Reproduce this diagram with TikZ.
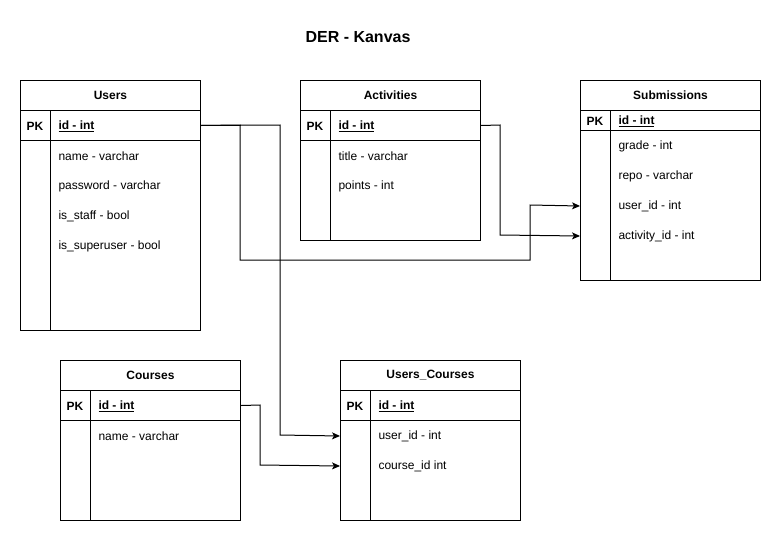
\documentclass[tikz,border=0pt]{standalone}
\usepackage{fontspec}
\setmainfont{Liberation Sans}
\usetikzlibrary{arrows.meta}
\begin{document}
\begin{tikzpicture}[x=1pt,y=-1pt,line width=1pt,
  box/.style={draw,anchor=north west,minimum width=180pt,inner sep=0pt},
  hdr/.style={box,minimum height=30pt,font=\fontsize{12}{14}\selectfont\bfseries},
  pkrow/.style={box,minimum height=30pt},
  pklab/.style={inner sep=0pt,yshift=-1pt,font=\fontsize{12}{14}\selectfont\bfseries},
  keytxt/.style={anchor=west,inner sep=0pt,yshift=-1pt,font=\fontsize{12}{14}\selectfont\bfseries},
  fld/.style={anchor=west,inner sep=0pt,yshift=-1pt,font=\fontsize{12}{14}\selectfont},
  conn/.style={draw,line width=1pt},
  arr/.style={conn,-{Stealth[length=8pt,width=7pt,inset=2pt]}}]
\useasboundingbox (0,0) rectangle (781,541);
\fill[white] (0,0) rectangle (781,541);

\node[font=\fontsize{16}{19}\selectfont\bfseries] (title) at (358,37) {DER - Kanvas};

% Users
\node[hdr] (users) at (20,80) {Users};
\node[pkrow] (users-pk) at (20,110) {};
\node[box,minimum height=190pt] (users-body) at (20,140) {};
\draw (50,110) -- (50,330);
\node[pklab] (users-pkl) at (35,125) {PK};
\node[keytxt] (users-id) at (58,125) {\underline{id - int}};
\node[fld] (users-name) at (58,155) {name - varchar};
\node[fld] (users-pass) at (58,185) {password - varchar};
\node[fld] (users-staff) at (58,215) {is\_staff - bool};
\node[fld] (users-super) at (58,245) {is\_superuser - bool};

% Activities
\node[hdr] (act) at (300,80) {Activities};
\node[pkrow] (act-pk) at (300,110) {};
\node[box,minimum height=100pt] (act-body) at (300,140) {};
\draw (330,110) -- (330,240);
\node[pklab] (act-pkl) at (315,125) {PK};
\node[keytxt] (act-id) at (338,125) {\underline{id - int}};
\node[fld] (act-title) at (338,155) {title - varchar};
\node[fld] (act-points) at (338,185) {points - int};

% Submissions
\node[hdr] (sub) at (580,80) {Submissions};
\node[box,minimum height=20pt] (sub-pk) at (580,110) {};
\node[box,minimum height=150pt] (sub-body) at (580,130) {};
\draw (610,110) -- (610,280);
\node[pklab] (sub-pkl) at (595,120) {PK};
\node[keytxt] (sub-id) at (618,120) {\underline{id - int}};
\node[fld] (sub-grade) at (618,145) {grade - int};
\node[fld] (sub-repo) at (618,175) {repo - varchar};
\node[fld] (sub-user) at (618,205) {user\_id - int};
\node[fld] (sub-act) at (618,235) {activity\_id - int};

% Courses
\node[hdr] (crs) at (60,360) {Courses};
\node[pkrow] (crs-pk) at (60,390) {};
\node[box,minimum height=100pt] (crs-body) at (60,420) {};
\draw (90,390) -- (90,520);
\node[pklab] (crs-pkl) at (75,405) {PK};
\node[keytxt] (crs-id) at (98,405) {\underline{id - int}};
\node[fld] (crs-name) at (98,435) {name - varchar};

% Users_Courses
\node[hdr] (uc) at (340,360) {Users\_Courses};
\node[pkrow] (uc-pk) at (340,390) {};
\node[box,minimum height=100pt] (uc-body) at (340,420) {};
\draw (370,390) -- (370,520);
\node[pklab] (uc-pkl) at (355,405) {PK};
\node[keytxt] (uc-id) at (378,405) {\underline{id - int}};
\node[fld] (uc-user) at (378,435) {user\_id - int};
\node[fld] (uc-course) at (378,465) {course\_id int};

% Connectors
\draw[arr] (users-pk.east) -- (240,125) -- (240,260) -- (530,260) -- (530,205) -- (sub-body.west |- sub-user.west);
\draw[arr] (users-pk.east) -- (280,125) -- (280,435) -- (uc-body.west |- uc-user.west);
\draw[arr] (act-pk.east) -- (500,125) -- (500,235) -- (sub-body.west |- sub-act.west);
\draw[arr] (crs-pk.east) -- (260,405) -- (260,465) -- (uc-body.west |- uc-course.west);
\end{tikzpicture}
\end{document}
